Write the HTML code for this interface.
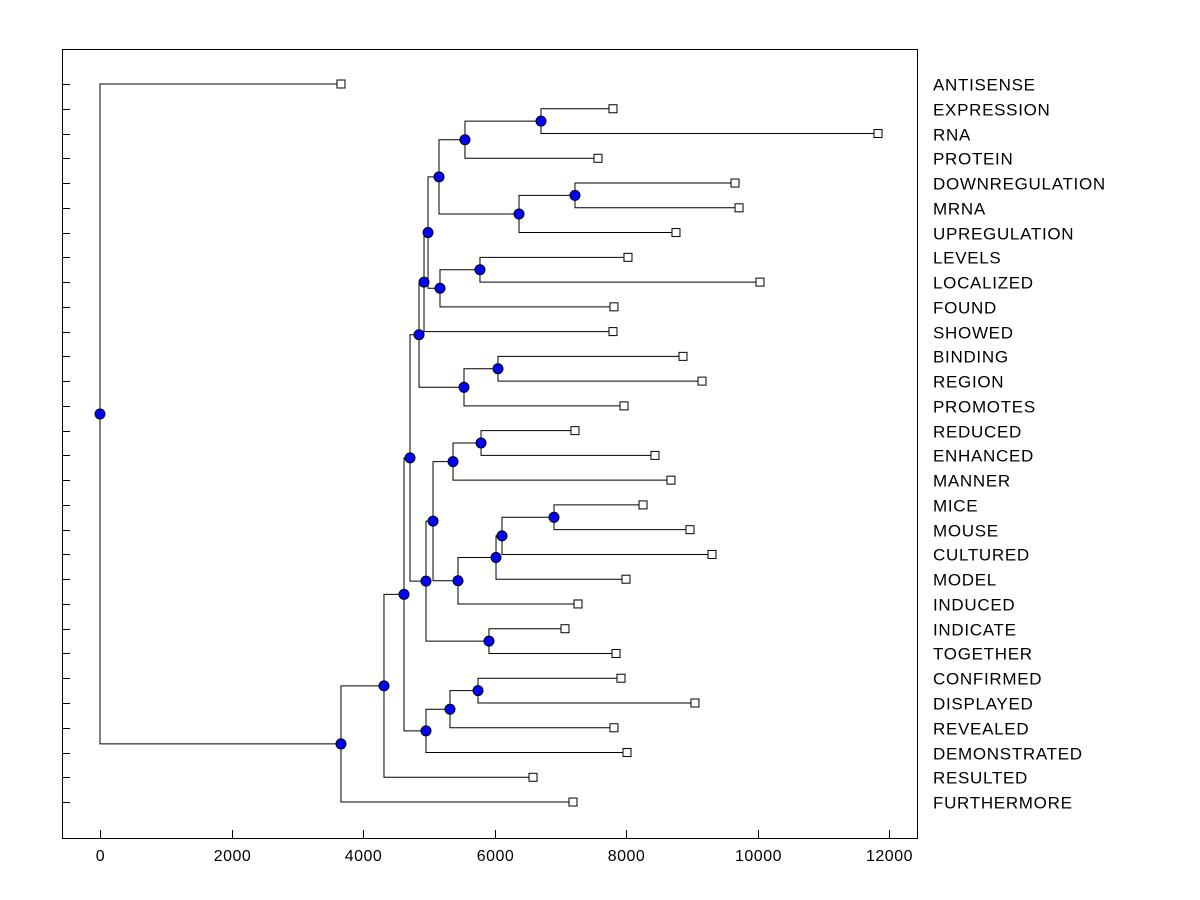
<!DOCTYPE html>
<html><head><meta charset="utf-8"><style>html,body{margin:0;background:#fff}svg{display:block}</style></head>
<body>
<svg id="chart" width="1200" height="900" xmlns="http://www.w3.org/2000/svg" font-family="Liberation Sans, Arial, sans-serif"></svg>
<script>
const labels = ["ANTISENSE","EXPRESSION","RNA","PROTEIN","DOWNREGULATION","MRNA","UPREGULATION","LEVELS","LOCALIZED","FOUND","SHOWED","BINDING","REGION","PROMOTES","REDUCED","ENHANCED","MANNER","MICE","MOUSE","CULTURED","MODEL","INDUCED","INDICATE","TOGETHER","CONFIRMED","DISPLAYED","REVEALED","DEMONSTRATED","RESULTED","FURTHERMORE"];
const leafValues = [3665,7802,11833,7574,9658,9719,8760,8030,10038,7817,7802,8867,9156,7970,7224,8441,8684,8259,8973,9308,8000,7270,7072,7848,7924,9049,7817,8015,6586,7194];
// merges: node ids 30+ in order
const mergeA = [1,30,4,32,31,7,35,34,37,11,39,38,14,42,17,44,45,46,43,22,48,41,24,52,53,51,55,56,0];
const mergeB = [2,3,5,6,33,8,9,36,10,12,13,40,15,16,18,19,20,21,47,23,49,50,25,26,27,54,28,29,57];
const mergeHeights = [6707,5551,7224,6373,5156,5779,5171,4989,4928,6053,5536,4852,5795,5369,6905,6114,6023,5445,5065,5916,4958,4715,5749,5323,4958,4624,4319,3665,0];
const xTicks = [0,2000,4000,6000,8000,10000,12000];

const svg=document.getElementById('chart');
const NS="http://www.w3.org/2000/svg";
const L=62,R=917,T=49,B=838;
const xs=v=>100+v*(789/12000);
const ys=i=>84+i*24.76;
function mk(tag,attrs,parent){const e=document.createElementNS(NS,tag);for(const k in attrs)e.setAttribute(k,attrs[k]);(parent||svg).appendChild(e);return e;}

const frame=mk('rect',{x:L+0.5,y:T+0.5,width:R-L,height:B-T,fill:'none',stroke:'#000','stroke-width':1});



xTicks.forEach(v=>{
  const x=Math.round(xs(v))+0.5;
  const t=mk('line',{x1:x,y1:B,x2:x,y2:B-8,stroke:'#000'});
  
  
  const tx=mk('text',{x:x,y:861,'text-anchor':'middle','font-size':16,'letter-spacing':0.5,fill:'#000'});
  tx.textContent=v;
  
  
});

labels.forEach((lab,i)=>{
  const y=Math.round(ys(i))+0.5;
  const t=mk('line',{x1:L,y1:y,x2:L+8,y2:y,stroke:'#000'});
  
  
  const tx=mk('text',{x:933,y:y+6,'font-size':17,'letter-spacing':0.7,fill:'#000'});
  tx.textContent=lab;
  
  
});

const nx=[],ny=[];
leafValues.forEach((v,i)=>{nx.push(xs(v));ny.push(ys(i));});
mergeHeights.forEach((h,k)=>{nx.push(xs(h));ny.push((ny[mergeA[k]]+ny[mergeB[k]])/2);});

const g=mk('g',{});


mergeHeights.forEach((h,k)=>{
  const px=nx[30+k];
  [mergeA[k],mergeB[k]].forEach(c=>{
    const p=mk('path',{d:`M${px},${ny[30+k]}V${ny[c]}H${nx[c]}`,fill:'none',stroke:'#000','stroke-width':1},g);
    
    
  });
});
leafValues.forEach((v,i)=>{
  const r=mk('rect',{x:nx[i]-4,y:ny[i]-4,width:8,height:8,fill:'#fff',stroke:'#000'});
  
  
});
mergeHeights.forEach((h,k)=>{
  const c=mk('circle',{cx:nx[30+k],cy:ny[30+k],r:5,fill:'#0000ff',stroke:'#000'});
  
  
});
</script>
</body></html>
